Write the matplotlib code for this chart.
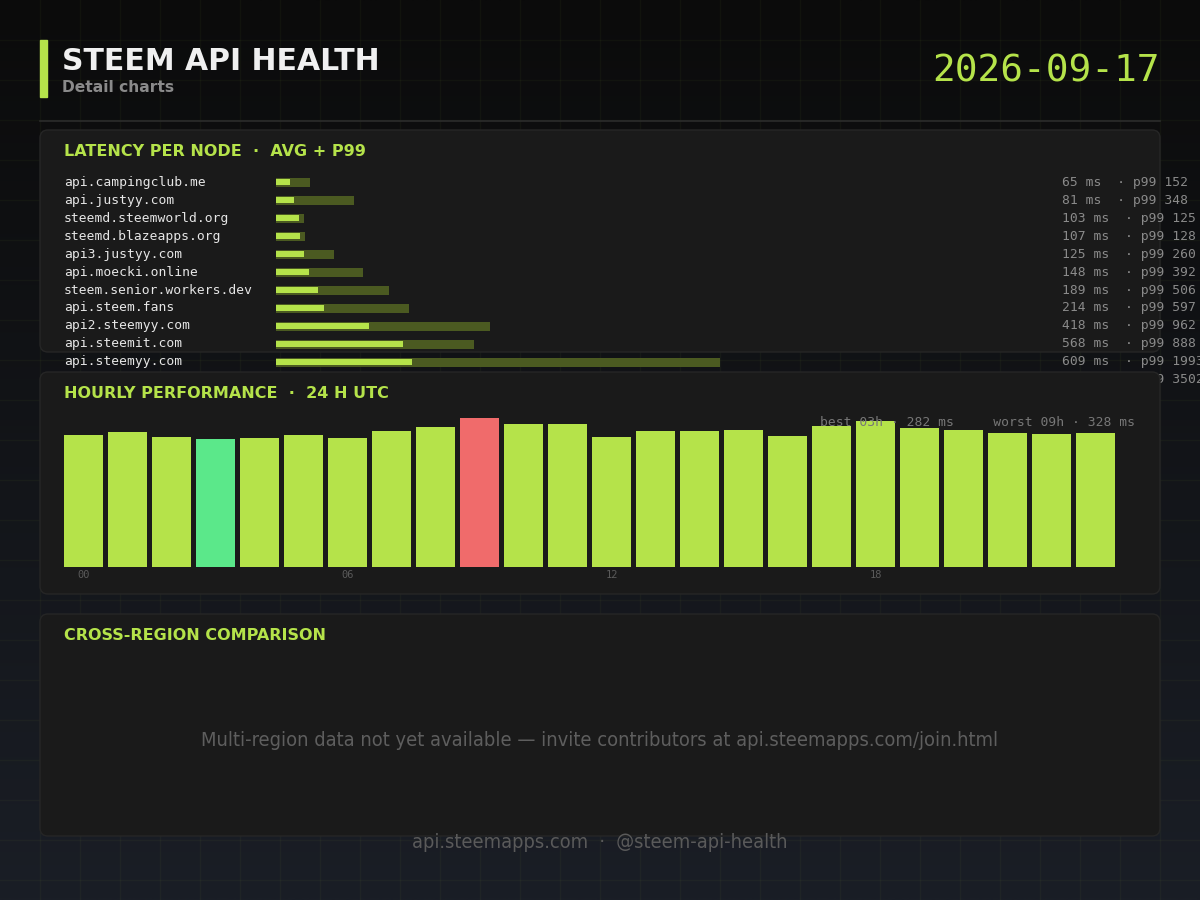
import numpy as np
import matplotlib
matplotlib.use("Agg")
import matplotlib.pyplot as plt
import matplotlib.transforms as mtransforms
from matplotlib.patches import FancyBboxPatch, Rectangle

# data
report_date = "2026-09-17"
nodes = ["api.campingclub.me", "api.justyy.com", "steemd.steemworld.org",
         "steemd.blazeapps.org", "api3.justyy.com", "api.moecki.online",
         "steem.senior.workers.dev", "api.steem.fans", "api2.steemyy.com",
         "api.steemit.com", "api.steemyy.com", "api.pennsif.net"]
avg_ms = [65, 81, 103, 107, 125, 148, 189, 214, 418, 568, 609, 712]
p99_ms = [152, 348, 125, 128, 260, 392, 506, 597, 962, 888, 1993, 3502]
hours = list(range(24))
hourly_ms = [291, 297, 286, 282, 283, 290, 283, 299, 308, 328, 315, 315,
             286, 299, 299, 302, 288, 310, 321, 306, 302, 295, 293, 295]
hour_ticks = [0, 6, 12, 18]

LIME = "#b5e34a"
TRACK = "#4b5a21"
GOOD = "#5be88a"
BAD = "#f06b6b"
PANEL = "#1a1a1a"
EDGE = "#262626"
MONO = "DejaVu Sans Mono"
SANS = "DejaVu Sans"

W, H = 1200, 900
fig = plt.figure(figsize=(12, 9), dpi=100)
# top-left pixel coordinates
px = mtransforms.Affine2D().scale(1 / W, -1 / H).translate(0, 1) + fig.transFigure


def pane(x0, y0, x1, y1, z):
    ax = fig.add_axes([x0 / W, 1 - y1 / H, (x1 - x0) / W, (y1 - y0) / H], zorder=z)
    ax.set_axis_off()
    return ax


def card(y0, y1, z):
    fig.add_artist(FancyBboxPatch((40, y0), 1120, y1 - y0,
                                  boxstyle="round,pad=0,rounding_size=8",
                                  transform=px, fc=PANEL, ec=EDGE, lw=1, zorder=z))


# background gradient + grid
bg = pane(0, 0, W, H, 0)
top = np.array([11, 11, 11]) / 255
bot = np.array([26, 30, 38]) / 255
t = np.linspace(0, 1, 300)[:, None, None]
grad = top * (1 - t) + bot * t
bg.imshow(np.repeat(grad, 2, axis=1), extent=[0, W, H, 0], aspect="auto")
bg.set_xlim(0, W)
bg.set_ylim(H, 0)
for v in range(40, W, 40):
    bg.axvline(v, color=LIME, alpha=0.04, lw=1)
for v in range(40, H, 40):
    bg.axhline(v, color=LIME, alpha=0.04, lw=1)

# header
fig.add_artist(Rectangle((40, 40), 7, 57, transform=px, color=LIME, zorder=1))
fig.text(62, 62, "STEEM API HEALTH", transform=px, ha="left", va="center",
         fontsize=21.5, fontweight="bold", color="#f0f0f0", family=SANS)
fig.text(62, 88, "Detail charts", transform=px, ha="left", va="center",
         fontsize=11.2, fontweight="bold", color="#8a8a8a", family=SANS)
fig.text(1160, 71, report_date, transform=px, ha="right", va="center",
         fontsize=27.2, color=LIME, family=MONO)
fig.add_artist(plt.Line2D([40, 1160], [120.5, 120.5], transform=px,
                          color="#2c2c2c", lw=1.2, zorder=1))

# latency per node
card(130, 352, 1)
fig.text(64, 152, "LATENCY PER NODE  ·  AVG + P99", transform=px, ha="left",
         va="center", fontsize=11.5, fontweight="bold", color=LIME, family=SANS, zorder=2)
rows = np.arange(len(nodes))
lat = pane(276, 173, 1056, 389, 2)
lat.set_xlim(0, max(p99_ms))
lat.set_ylim(len(nodes) - 0.5, -0.5)
lat.barh(rows, p99_ms, height=0.5, color=TRACK)
lat.barh(rows, avg_ms, height=0.31, color=LIME)
row_tf = mtransforms.blended_transform_factory(px, lat.transData)
for i, (n, a, p) in enumerate(zip(nodes, avg_ms, p99_ms)):
    lat.text(64, i, n, transform=row_tf, ha="left", va="center",
             fontsize=9.4, color="#e6e6e6", family=MONO)
    lat.text(1062, i, f"{a} ms  · p99 {p}", transform=row_tf, ha="left",
             va="center", fontsize=9.4, color="#8a8a8a", family=MONO)

# hourly performance
card(372, 594, 3)
fig.text(64, 394, "HOURLY PERFORMANCE  ·  24 H UTC", transform=px, ha="left",
         va="center", fontsize=11.5, fontweight="bold", color=LIME, family=SANS, zorder=4)
best = int(np.argmin(hourly_ms))
worst = int(np.argmax(hourly_ms))
colors = [GOOD if h == best else BAD if h == worst else LIME for h in hours]
hr = pane(61.5, 418, 1117.5, 567, 4)
hr.set_xlim(-0.5, 23.5)
hr.set_ylim(0, max(hourly_ms))
hr.bar(hours, hourly_ms, width=39 / 44, color=colors)
tick_tf = mtransforms.blended_transform_factory(hr.transData, px)
for h in hour_ticks:
    hr.text(h, 575, f"{h:02d}", transform=tick_tf, ha="center", va="center",
            fontsize=7.5, color="#5a5a5a", family=MONO)
fig.text(1135, 422,
         f"best {best:02d}h · {hourly_ms[best]} ms     worst {worst:02d}h · {hourly_ms[worst]} ms",
         transform=px, ha="right", va="center", fontsize=9.4, color="#777777",
         family=MONO, zorder=6)

# cross-region
card(614, 836, 5)
fig.text(64, 636, "CROSS-REGION COMPARISON", transform=px, ha="left", va="center",
         fontsize=11.5, fontweight="bold", color=LIME, family=SANS, zorder=6)
fig.text(600, 741, "Multi-region data not yet available — invite contributors at api.steemapps.com/join.html",
         transform=px, ha="center", va="center", fontsize=14.4, color="#5e5e5e",
         family=SANS, fontstretch="condensed", zorder=6)

# footer
fig.text(600, 843, "api.steemapps.com  ·  @steem-api-health", transform=px,
         ha="center", va="center", fontsize=14.3, color="#5a5a5a", family=SANS,
         fontstretch="condensed", zorder=6)

fig.savefig("out.png", dpi=100)
